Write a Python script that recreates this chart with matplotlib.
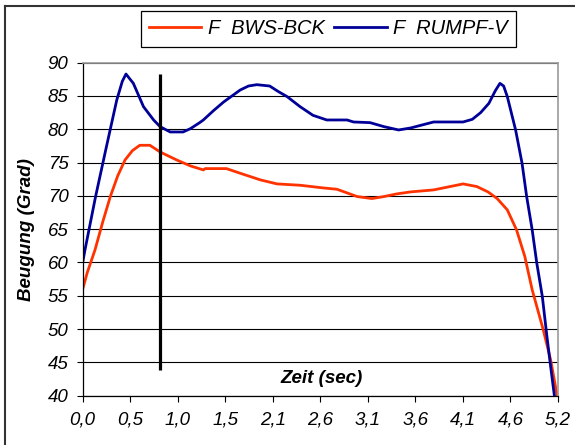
import matplotlib.pyplot as plt
from matplotlib.lines import Line2D

plt.rcParams['font.family'] = ['Liberation Sans', 'DejaVu Sans']

# time (sec) and flexion angle (deg) for both measurements
t_rumpf = [0, 0.025, 0.14, 0.25, 0.37, 0.43, 0.47, 0.55, 0.66, 0.77, 0.84, 0.95,
           1.09, 1.17, 1.27, 1.31, 1.42, 1.53, 1.71, 1.80, 1.89, 2.03, 2.12, 2.22,
           2.36, 2.50, 2.65, 2.87, 2.94, 3.12, 3.27, 3.43, 3.56, 3.81, 4.13, 4.23,
           4.32, 4.41, 4.48, 4.53, 4.57, 4.61, 4.70, 4.77, 4.82, 4.88, 4.93, 4.99,
           5.04, 5.08, 5.12]
v_rumpf = [60, 61.9, 69.9, 76.9, 84.4, 87.2, 88.3, 86.9, 83.4, 81.4, 80.4, 79.6,
           79.6, 80.1, 81.0, 81.4, 82.8, 84.1, 85.9, 86.5, 86.7, 86.5, 85.7, 84.9,
           83.4, 82.1, 81.4, 81.4, 81.1, 81.0, 80.4, 79.9, 80.2, 81.1, 81.1, 81.5,
           82.5, 83.9, 85.8, 86.9, 86.5, 84.9, 79.9, 74.9, 69.9, 64.9, 59.9, 54.9,
           48.9, 44.4, 40.1]

t_bws = [0, 0.05, 0.134, 0.22, 0.30, 0.38, 0.46, 0.54, 0.62, 0.73, 0.84, 1.02,
         1.17, 1.31, 1.33, 1.56, 1.71, 1.93, 2.11, 2.36, 2.61, 2.76, 2.98, 3.14,
         3.27, 3.41, 3.56, 3.81, 4.13, 4.28, 4.40, 4.50, 4.61, 4.71, 4.80, 4.88,
         4.93, 5.00, 5.08, 5.15]
v_bws = [56, 58.5, 61.9, 66.2, 69.9, 73.0, 75.4, 76.8, 77.6, 77.6, 76.6, 75.4,
         74.5, 73.9, 74.1, 74.1, 73.4, 72.4, 71.8, 71.6, 71.2, 71.0, 69.9, 69.6,
         69.9, 70.3, 70.6, 70.9, 71.8, 71.4, 70.6, 69.6, 67.9, 64.9, 60.9, 55.9,
         53.4, 49.9, 45.4, 40.1]

# marker line for the event time
t_mark = 0.84
mark_range = [43.8, 88.3]

xticks = [i * 0.516 for i in range(11)]
xtick_labels = ['0,0', '0,5', '1,0', '1,5', '2,1', '2,6', '3,1', '3,6', '4,1', '4,6', '5,2']
yticks = list(range(40, 91, 5))

fig = plt.figure(figsize=(5.75, 4.45), dpi=100)
ax = fig.add_axes([0.1438, 0.1108, 0.8266, 0.7483])

ax.plot(t_bws, v_bws, color='#ff3300', lw=2.0, label='F  BWS-BCK')
ax.plot(t_rumpf, v_rumpf, color='#000099', lw=2.0, label='F  RUMPF-V')
ax.plot([t_mark, t_mark], mark_range, color='black', lw=2.3, solid_capstyle='butt')

ax.set_xlim(0, 5.16)
ax.set_ylim(40, 90)
ax.set_xticks(xticks)
ax.set_xticklabels(xtick_labels, fontsize=13.5, style='italic')
ax.set_yticks(yticks)
ax.set_yticklabels([str(y) for y in yticks], fontsize=13.5, style='italic')
ax.tick_params(direction='out', length=4.3, width=0.8, color='black', pad=6)
ax.tick_params(axis='x', pad=7)

ax.yaxis.grid(True, color='black', lw=0.8)
ax.set_axisbelow(True)
for s in ['left', 'bottom']:
    ax.spines[s].set_color('black')
    ax.spines[s].set_linewidth(0.9)
for s in ['top', 'right']:
    ax.spines[s].set_color('#999999')
    ax.spines[s].set_linewidth(1.2)

ax.set_ylabel('Beugung (Grad)', fontsize=13.5, style='italic', weight='bold', labelpad=9)
ax.text(0.503, 0.053, 'Zeit (sec)', transform=ax.transAxes, ha='center', va='center',
        fontsize=13.5, style='italic', weight='bold')

leg = fig.legend(loc='center', bbox_to_anchor=(0.571, 0.9355), ncol=2,
                 prop={'size': 14.5, 'style': 'italic'}, fancybox=False,
                 edgecolor='black', framealpha=1, handlelength=2.6,
                 handletextpad=0.3, columnspacing=0.5, borderpad=0.42)
leg.get_frame().set_linewidth(0.9)

# outer chart border (left and top edges visible)
fig.add_artist(Line2D([5 / 575, 5 / 575], [0, 1 - 6 / 445], color='#333333', lw=1.5))
fig.add_artist(Line2D([5 / 575, 1], [1 - 6 / 445, 1 - 6 / 445], color='#333333', lw=1.5))

fig.savefig('out.png', dpi=100)
